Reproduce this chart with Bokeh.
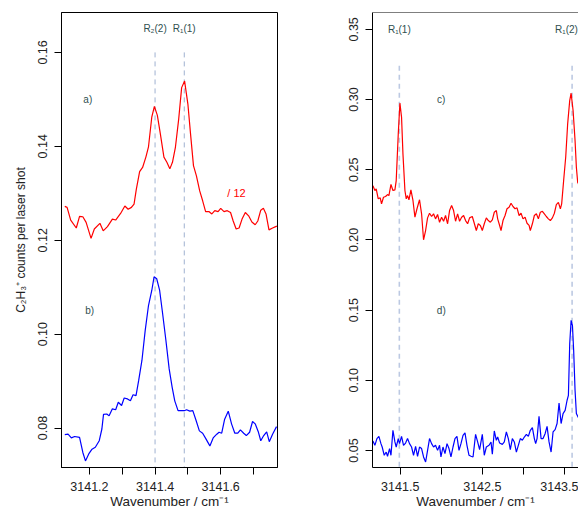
from bokeh.plotting import figure
from bokeh.layouts import row
from bokeh.models import FixedTicker, PrintfTickFormatter, Span, Range1d
from bokeh.core.properties import value
from bokeh.embed import file_html
from bokeh.resources import INLINE

# ---------------- data ----------------
# panel a) (red, left)
a_x = [3141.125, 3141.132, 3141.143, 3141.160, 3141.170, 3141.180, 3141.190, 3141.205, 3141.215, 3141.232,
       3141.242, 3141.255, 3141.270, 3141.280, 3141.295, 3141.308, 3141.318, 3141.328, 3141.336, 3141.343,
       3141.353, 3141.362, 3141.372, 3141.380, 3141.390, 3141.398, 3141.407, 3141.416, 3141.427, 3141.436,
       3141.445, 3141.453, 3141.462, 3141.472, 3141.481, 3141.490, 3141.500, 3141.508, 3141.517, 3141.526,
       3141.536, 3141.545, 3141.554, 3141.564, 3141.573, 3141.582, 3141.592, 3141.600, 3141.610, 3141.620,
       3141.630, 3141.638, 3141.647, 3141.656, 3141.665, 3141.675, 3141.685, 3141.695, 3141.705, 3141.713,
       3141.722, 3141.730, 3141.738, 3141.747, 3141.758, 3141.771]
a_y = [0.1272, 0.1270, 0.1243, 0.1226, 0.1251, 0.1250, 0.1238, 0.1204, 0.1224, 0.1236,
       0.1220, 0.1229, 0.1245, 0.1243, 0.1257, 0.1273, 0.1266, 0.1270, 0.1277, 0.1309,
       0.1346, 0.1355, 0.1377, 0.1399, 0.1462, 0.1485, 0.1466, 0.1427, 0.1377, 0.1366,
       0.1352, 0.1366, 0.1398, 0.1458, 0.1525, 0.1539, 0.1490, 0.1427, 0.1359, 0.1337,
       0.1305, 0.1284, 0.1261, 0.1261, 0.1256, 0.1263, 0.1261, 0.1268, 0.1261, 0.1263,
       0.1259, 0.1241, 0.1224, 0.1226, 0.1245, 0.1259, 0.1252, 0.1239, 0.1233, 0.1241,
       0.1264, 0.1268, 0.1256, 0.1222, 0.1226, 0.1230]

# panel b) (blue, left)
b_x = [3141.125, 3141.135, 3141.145, 3141.155, 3141.170, 3141.180, 3141.188, 3141.198, 3141.208, 3141.218,
       3141.230, 3141.238, 3141.243, 3141.253, 3141.260, 3141.270, 3141.280, 3141.288, 3141.298, 3141.306,
       3141.316, 3141.325, 3141.333, 3141.342, 3141.350, 3141.360, 3141.370, 3141.380, 3141.390, 3141.397,
       3141.405, 3141.414, 3141.423, 3141.433, 3141.443, 3141.452, 3141.460, 3141.470, 3141.480, 3141.489,
       3141.496, 3141.506, 3141.515, 3141.525, 3141.535, 3141.545, 3141.555, 3141.567, 3141.577, 3141.588,
       3141.595, 3141.603, 3141.612, 3141.623, 3141.633, 3141.643, 3141.652, 3141.660, 3141.670, 3141.678,
       3141.688, 3141.697, 3141.705, 3141.715, 3141.722, 3141.731, 3141.740, 3141.748, 3141.758, 3141.770]
b_y = [0.0786, 0.0787, 0.0779, 0.0782, 0.0780, 0.0748, 0.0730, 0.0745, 0.0755, 0.0759,
       0.0773, 0.0798, 0.0829, 0.0830, 0.0826, 0.0841, 0.0839, 0.0855, 0.0848, 0.0864,
       0.0862, 0.0858, 0.0871, 0.0869, 0.0901, 0.0944, 0.1008, 0.1061, 0.1093, 0.1122,
       0.1118, 0.1093, 0.1044, 0.0987, 0.0926, 0.0887, 0.0858, 0.0837, 0.0837, 0.0837,
       0.0839, 0.0836, 0.0837, 0.0816, 0.0794, 0.0789, 0.0777, 0.0762, 0.0779, 0.0787,
       0.0791, 0.0789, 0.0819, 0.0836, 0.0809, 0.0789, 0.0789, 0.0796, 0.0789, 0.0784,
       0.0791, 0.0814, 0.0809, 0.0791, 0.0773, 0.0784, 0.0792, 0.0771, 0.0787, 0.0803]

# panel c) (red, right)
c_x = [3141.167, 3141.191, 3141.207, 3141.232, 3141.256, 3141.272, 3141.296, 3141.321, 3141.345, 3141.362,
       3141.387, 3141.411, 3141.435, 3141.451, 3141.476, 3141.496, 3141.516, 3141.533, 3141.557, 3141.573,
       3141.589, 3141.606, 3141.630, 3141.655, 3141.679, 3141.704, 3141.735, 3141.760, 3141.784, 3141.809,
       3141.833, 3141.857, 3141.882, 3141.906, 3141.930, 3141.955, 3141.979, 3142.004, 3142.028, 3142.052,
       3142.077, 3142.101, 3142.126, 3142.150, 3142.174, 3142.199, 3142.223, 3142.248, 3142.272, 3142.296,
       3142.321, 3142.345,
       3142.378, 3142.402, 3142.427, 3142.451, 3142.476, 3142.500, 3142.524, 3142.549, 3142.573, 3142.598,
       3142.622, 3142.646, 3142.671, 3142.687, 3142.711, 3142.728, 3142.752, 3142.777, 3142.801, 3142.826,
       3142.850, 3142.874, 3142.899, 3142.923, 3142.948, 3142.972, 3142.996, 3143.021, 3143.045, 3143.070,
       3143.085, 3143.110, 3143.134, 3143.159, 3143.183, 3143.207, 3143.232, 3143.256, 3143.280, 3143.305,
       3143.329, 3143.354, 3143.378, 3143.402, 3143.427, 3143.451, 3143.467, 3143.491, 3143.516, 3143.540,
       3143.565, 3143.582, 3143.606, 3143.630, 3143.646, 3143.662, 3143.671, 3143.695]
c_y = [0.2387, 0.2352, 0.2364, 0.2293, 0.2300, 0.2257, 0.2304, 0.2309, 0.2323, 0.2316,
       0.2395, 0.2352, 0.2357, 0.2423, 0.2756, 0.2974, 0.2874, 0.2613, 0.2352, 0.2293,
       0.2316, 0.2286, 0.2357, 0.2281, 0.2162, 0.2222, 0.2286, 0.2186, 0.2001, 0.2067,
       0.2157, 0.2190, 0.2167, 0.2186, 0.2150, 0.2181, 0.2126, 0.2162, 0.2133, 0.2174,
       0.2115, 0.2209, 0.2245, 0.2209, 0.2133, 0.2186, 0.2133, 0.2162, 0.2174, 0.2138,
       0.2115, 0.2157,
       0.2167, 0.2119, 0.2067, 0.2115, 0.2103, 0.2067, 0.2115, 0.2157, 0.2138, 0.2126,
       0.2143, 0.2197, 0.2209, 0.2150, 0.2103, 0.2067, 0.2138, 0.2174, 0.2222, 0.2233,
       0.2261, 0.2238, 0.2222, 0.2229, 0.2174, 0.2190, 0.2150, 0.2162, 0.2119, 0.2103,
       0.2067, 0.2115, 0.2174, 0.2186, 0.2150, 0.2197, 0.2204, 0.2186, 0.2167, 0.2150,
       0.2138, 0.2157, 0.2190, 0.2252, 0.2268, 0.2222, 0.2257, 0.2423, 0.2589, 0.2827,
       0.2993, 0.3045, 0.2922, 0.2708, 0.2518, 0.2411, 0.2400, 0.2350]

# panel d) (blue, right)
d_x = [3141.167, 3141.191, 3141.216, 3141.240, 3141.265, 3141.280, 3141.305, 3141.329, 3141.345, 3141.370,
       3141.387, 3141.411, 3141.435, 3141.451, 3141.476, 3141.491, 3141.516, 3141.540, 3141.565, 3141.589,
       3141.613, 3141.638, 3141.662, 3141.687, 3141.711, 3141.735, 3141.760, 3141.784, 3141.809, 3141.833,
       3141.857, 3141.882, 3141.906, 3141.930, 3141.955, 3141.979, 3141.996, 3142.021, 3142.045, 3142.070,
       3142.094, 3142.118, 3142.143, 3142.167, 3142.191, 3142.216, 3142.240, 3142.265, 3142.289, 3142.313,
       3142.338,
       3142.362, 3142.387, 3142.418, 3142.443, 3142.467, 3142.500, 3142.524, 3142.549, 3142.582, 3142.606,
       3142.622, 3142.646, 3142.671, 3142.687, 3142.711, 3142.744, 3142.768, 3142.793, 3142.817, 3142.841,
       3142.866, 3142.890, 3142.915, 3142.939, 3142.963, 3142.988, 3143.012, 3143.037, 3143.061, 3143.085,
       3143.110, 3143.134, 3143.150, 3143.167, 3143.191, 3143.216, 3143.240, 3143.265, 3143.289, 3143.313,
       3143.338, 3143.362, 3143.387, 3143.411, 3143.435, 3143.460, 3143.484, 3143.509, 3143.533, 3143.549,
       3143.565, 3143.582, 3143.598, 3143.613, 3143.630, 3143.646, 3143.671]
d_y = [0.0568, 0.0537, 0.0585, 0.0601, 0.0549, 0.0525, 0.0466, 0.0489, 0.0459, 0.0514,
       0.0466, 0.0644, 0.0561, 0.0525, 0.0585, 0.0549, 0.0601, 0.0537, 0.0553, 0.0585,
       0.0549, 0.0525, 0.0466, 0.0530, 0.0459, 0.0525, 0.0514, 0.0454, 0.0418, 0.0501,
       0.0585, 0.0549, 0.0525, 0.0537, 0.0501, 0.0537, 0.0454, 0.0525, 0.0478, 0.0549,
       0.0514, 0.0454, 0.0525, 0.0585, 0.0601, 0.0501, 0.0549, 0.0608, 0.0625, 0.0537,
       0.0466,
       0.0459, 0.0454, 0.0615, 0.0561, 0.0506, 0.0615, 0.0466, 0.0525, 0.0537, 0.0561,
       0.0473, 0.0639, 0.0573, 0.0596, 0.0553, 0.0544, 0.0561, 0.0632, 0.0585, 0.0506,
       0.0585, 0.0561, 0.0489, 0.0537, 0.0585, 0.0573, 0.0596, 0.0615, 0.0601, 0.0644,
       0.0663, 0.0585, 0.0549, 0.0585, 0.0744, 0.0585, 0.0585, 0.0620, 0.0672, 0.0561,
       0.0489, 0.0632, 0.0649, 0.0692, 0.0838, 0.0692, 0.0763, 0.0786, 0.0858, 0.0893,
       0.1261, 0.1427, 0.1392, 0.1214, 0.0929, 0.0763, 0.0734]

# line positions and labels
left_lines = [3141.400, 3141.489]
left_line_labels = ["R\u2082(2)", "R\u2081(1)"]
right_lines = [3141.489, 3143.594]
right_line_labels = ["R\u2081(1)", "R\u2081(2)"]

left_xticks = [3141.2, 3141.4, 3141.6]
left_xminor = [3141.3, 3141.5, 3141.7]
left_yticks = [0.08, 0.10, 0.12, 0.14, 0.16]
right_xticks = [3141.5, 3142.5, 3143.5]
right_xminor = [3142.0, 3143.0]
right_yticks = [0.05, 0.10, 0.15, 0.20, 0.25, 0.30, 0.35]

FONT = "Liberation Sans"
TXT = "#2F4F4F"


def style(p, xt, xm, yt):
    p.xgrid.visible = False
    p.ygrid.visible = False
    p.background_fill_color = "white"
    p.border_fill_color = "white"
    p.xaxis.ticker = FixedTicker(ticks=xt, minor_ticks=xm)
    p.yaxis.ticker = FixedTicker(ticks=yt, minor_ticks=[])
    p.xaxis.formatter = PrintfTickFormatter(format="%.1f")
    p.yaxis.formatter = PrintfTickFormatter(format="%.2f")
    for ax in (p.xaxis[0], p.yaxis[0]):
        ax.axis_line_color = "black"
        ax.major_tick_line_color = "black"
        ax.minor_tick_line_color = "black"
        ax.major_tick_in = 0
        ax.minor_tick_in = 0
        ax.major_label_text_font = FONT
        ax.major_label_text_font_size = "12.5px"
        ax.major_label_text_color = "#222222"
        ax.axis_label_text_font = FONT
        ax.axis_label_text_font_size = "12px"
        ax.axis_label_text_font_style = "normal"
        ax.axis_label_text_color = "#222222"
    xa = p.xaxis[0]
    xa.major_tick_out = 7
    xa.minor_tick_out = 7
    xa.major_label_standoff = 7
    xa.axis_label_standoff = 0
    xa.axis_label_text_font_size = "13.5px"
    xa.axis_label = "Wavenumber / cm\u207b\u00b9"
    ya = p.yaxis[0]
    ya.major_tick_out = 7
    ya.minor_tick_out = 7
    ya.major_label_standoff = 7
    ya.axis_label_standoff = 8
    ya.major_label_orientation = "vertical"


# ---------------- left figure ----------------
pl = figure(width=288, height=511, output_backend="svg", toolbar_location=None,
            x_range=Range1d(3141.115, 3141.773), y_range=Range1d(0.0716, 0.1685),
            min_border_left=61, min_border_right=11, min_border_top=12, min_border_bottom=44)
style(pl, left_xticks, left_xminor, left_yticks)
pl.outline_line_color = "black"
pl.outline_line_alpha = 1.0
pl.yaxis[0].axis_label = "C\u2082H\u2083\u207a counts per laser shot"

pl.segment(x0=left_lines, y0=[0.16] * len(left_lines), x1=left_lines, y1=[0.0716] * len(left_lines),
           line_color="#9FB1D1", line_width=1, line_dash="5 4")
pl.line(a_x, a_y, line_color="#FF0000", line_width=1.2)
pl.line(b_x, b_y, line_color="#0000FF", line_width=1.2)
pl.text(x=left_lines, y=[0.1650] * len(left_lines), text=left_line_labels,
        text_font=value(FONT), text_font_size=value("10px"), text_color=TXT,
        text_align="center", text_baseline="middle")
pl.text(x=[3141.195, 3141.201], y=[0.150, 0.105], text=["a)", "b)"],
        text_font=value(FONT), text_font_size=value("10px"), text_color=TXT,
        text_align="center", text_baseline="middle")
pl.text(x=[3141.648], y=[0.130], text=["/ 12"],
        text_font=value(FONT), text_font_size=value("11px"), text_color="#FF0000",
        text_align="center", text_baseline="middle")

# ---------------- right figure ----------------
pr = figure(width=290, height=511, output_backend="svg", toolbar_location=None,
            x_range=Range1d(3141.162, 3143.672), y_range=Range1d(0.0379, 0.362),
            min_border_left=84, min_border_right=0, min_border_top=12, min_border_bottom=44)
style(pr, right_xticks, right_xminor, right_yticks)
pr.outline_line_color = None
pr.add_layout(Span(location=0.362, dimension="width", line_color="black", line_width=1))

pr.segment(x0=right_lines, y0=[0.324] * len(right_lines), x1=right_lines, y1=[0.0379] * len(right_lines),
           line_color="#BCC9E2", line_width=1.6, line_dash="5 4")
pr.line(c_x, c_y, line_color="#FF0000", line_width=1.2)
pr.line(d_x, d_y, line_color="#0000FF", line_width=1.2)
pr.text(x=[right_lines[0]], y=[0.35], text=[right_line_labels[0]],
        text_font=value(FONT), text_font_size=value("10px"), text_color=TXT,
        text_align="center", text_baseline="middle")
# last label kept inside the canvas (right-aligned at the frame edge)
pr.text(x=[3143.665], y=[0.35], text=[right_line_labels[1]],
        text_font=value(FONT), text_font_size=value("10px"), text_color=TXT,
        text_align="right", text_baseline="middle")
pr.text(x=[3142.0, 3142.0], y=[0.30, 0.15], text=["c)", "d)"],
        text_font=value(FONT), text_font_size=value("10px"), text_color=TXT,
        text_align="center", text_baseline="middle")

layout = row(pl, pr)
open("out.html", "w").write(file_html(layout, INLINE))
